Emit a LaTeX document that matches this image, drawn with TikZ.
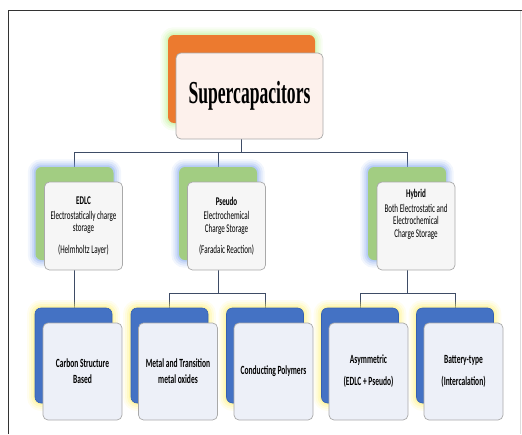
\documentclass[tikz,border=0pt]{standalone}
\usepackage{fontspec}
\setmainfont{Carlito}[FakeStretch=0.6]
\newfontfamily\titlefont{Liberation Serif}[FakeStretch=0.55]

\definecolor{framecol}{HTML}{333333}
\definecolor{framelight}{HTML}{DDDDDD}
\definecolor{orangebox}{HTML}{EC7A2F}
\definecolor{greenbox}{HTML}{A2CD82}
\definecolor{bluebox}{HTML}{4472C4}
\definecolor{blueedge}{HTML}{3560B0}
\definecolor{fronttop}{HTML}{FDF1EC}
\definecolor{frontmid}{HTML}{F6F6F6}
\definecolor{frontbot}{HTML}{EDF0F8}
\definecolor{boxedge}{HTML}{A9A9A9}
\definecolor{conncol}{HTML}{3E4C66}
\definecolor{glowgreen}{HTML}{B8F08A}
\definecolor{glowblue}{HTML}{7DA4EC}
\definecolor{glowyellow}{HTML}{FFF06A}

% soft halo drawn round a back panel (node name, colour)
\newcommand\halo[2]{%
  \foreach \w/\o in {15/0.10, 11/0.14, 7/0.2, 3/0.3}{%
    \draw[#2, line width=\w pt, opacity=\o, rounded corners=6pt]
      (#1.south west) rectangle (#1.north east);}}

\tikzset{
  panel/.style={rectangle, rounded corners=6pt, inner sep=0pt},
  toppanel/.style={panel, fill=orangebox, minimum width=147pt, minimum height=88pt},
  midpanel/.style={panel, fill=greenbox, minimum width=78pt, minimum height=93pt},
  botpanel/.style={panel, fill=bluebox, draw=blueedge, line width=0.6pt,
                   minimum width=77pt, minimum height=95pt},
  card/.style={rectangle, rounded corners=5pt, draw=boxedge, line width=0.7pt,
               inner sep=1pt, align=center, text=black},
  topcard/.style={card, fill=fronttop, minimum width=147pt, minimum height=86pt,
                  font=\titlefont\bfseries\fontsize{32}{34}\selectfont},
  midcard/.style={card, fill=frontmid, minimum width=78pt, minimum height=88pt,
                  font=\fontsize{11.8}{12.5}\selectfont},
  botcard/.style={card, fill=frontbot, minimum width=79pt, minimum height=97pt,
                  font=\bfseries\fontsize{12.5}{16}\selectfont},
  conn/.style={draw=conncol, line width=0.9pt},
}

\begin{document}
\begin{tikzpicture}[x=1pt, y=-1pt]
\useasboundingbox (0,0) rectangle (522,434);

% outer frame
\draw[framecol, line width=1.6pt] (8.5,434) -- (8.5,10.5) -- (522,10.5);
\draw[framelight, line width=0.8pt] (520.5,11) -- (520.5,434);

% back panels (positions only, filled later)
\path node[toppanel, fill=none] (topback) at (241.5,79) {};
\path node[midpanel, fill=none] (edlcback) at (74.5,213.5) {}
      node[midpanel, fill=none] (pseback) at (218,213.5) {}
      node[midpanel, fill=none] (hybback) at (407,213.5) {};
\path node[botpanel, draw=none, fill=none] (carbback) at (73.5,355.5) {}
      node[botpanel, draw=none, fill=none] (metback) at (169.5,355.5) {}
      node[botpanel, draw=none, fill=none] (condback) at (265,355.5) {}
      node[botpanel, draw=none, fill=none] (asymback) at (360,355.5) {}
      node[botpanel, draw=none, fill=none] (battback) at (455,355.5) {};

% front cards (positions)
\path node[topcard, draw=none, fill=none] (topfront) at (249.5,96) {}
      node[midcard, draw=none, fill=none] (edlcfront) at (83.5,226) {}
      node[midcard, draw=none, fill=none] (psefront) at (226.5,226) {}
      node[midcard, draw=none, fill=none] (hybfront) at (416,226) {};

\coordinate (busA) at (0,152.5);
\coordinate (busB) at (0,293);

% connectors
\draw[conn] (topback.south |- topfront.south) -- (topback.south |- busA);
\draw[conn] (edlcback.north) -- (edlcback.north |- busA) -- (hybback.north |- busA) -- (hybback.north);
\draw[conn] (pseback.north) -- (pseback.north |- busA);
\draw[conn] (edlcback.south |- edlcfront.south) -- (edlcback.south |- carbback.north);
\draw[conn] (pseback.south |- psefront.south) -- (pseback.south |- busB);
\draw[conn] (metback.north) -- (metback.north |- busB) -- (condback.north |- busB) -- (condback.north);
\draw[conn] (hybback.south |- hybfront.south) -- (hybback.south |- busB);
\draw[conn] (asymback.north) -- (asymback.north |- busB) -- (battback.north |- busB) -- (battback.north);

% halos
\halo{topback}{glowgreen}
\halo{edlcback}{glowblue}
\halo{pseback}{glowblue}
\halo{hybback}{glowblue}
\halo{carbback}{glowyellow}
\halo{metback}{glowyellow}
\halo{condback}{glowyellow}
\halo{asymback}{glowyellow}
\halo{battback}{glowyellow}

% back panels
\node[toppanel] at (topback) {};
\node[midpanel] at (edlcback) {};
\node[midpanel] at (pseback) {};
\node[midpanel] at (hybback) {};
\node[botpanel] at (carbback) {};
\node[botpanel] at (metback) {};
\node[botpanel] at (condback) {};
\node[botpanel] at (asymback) {};
\node[botpanel] at (battback) {};

% front cards with text
\node[topcard] (title) at (topfront) {Supercapacitors};
\node[midcard] (edlc) at (edlcfront) {\textbf{EDLC}\\[2pt]Electrostatically charge\\storage\\[9pt](Helmholtz Layer)};
\node[midcard] (pseudo) at (psefront) {\textbf{Pseudo}\\[2pt]Electrochemical\\Charge Storage\\[9pt](Faradaic Reaction)};
\node[midcard] (hybrid) at (hybfront) {\textbf{Hybrid}\\[2pt]Both Electrostatic and\\Electrochemical\\Charge Storage\\[9pt]\strut};
\node[botcard] (carbon) at (82.5,371.5) {Carbon Structure\\Based};
\node[botcard] (metal) at (178,371.5) {Metal and Transition\\metal oxides};
\node[botcard] (polymer) at (273.5,371.5) {Conducting Polymers};
\node[botcard] (asym) at (368.5,371.5) {Asymmetric\\[6pt](EDLC + Pseudo)};
\node[botcard] (battery) at (463.5,371.5) {Battery-type\\[6pt](Intercalation)};
\end{tikzpicture}
\end{document}
